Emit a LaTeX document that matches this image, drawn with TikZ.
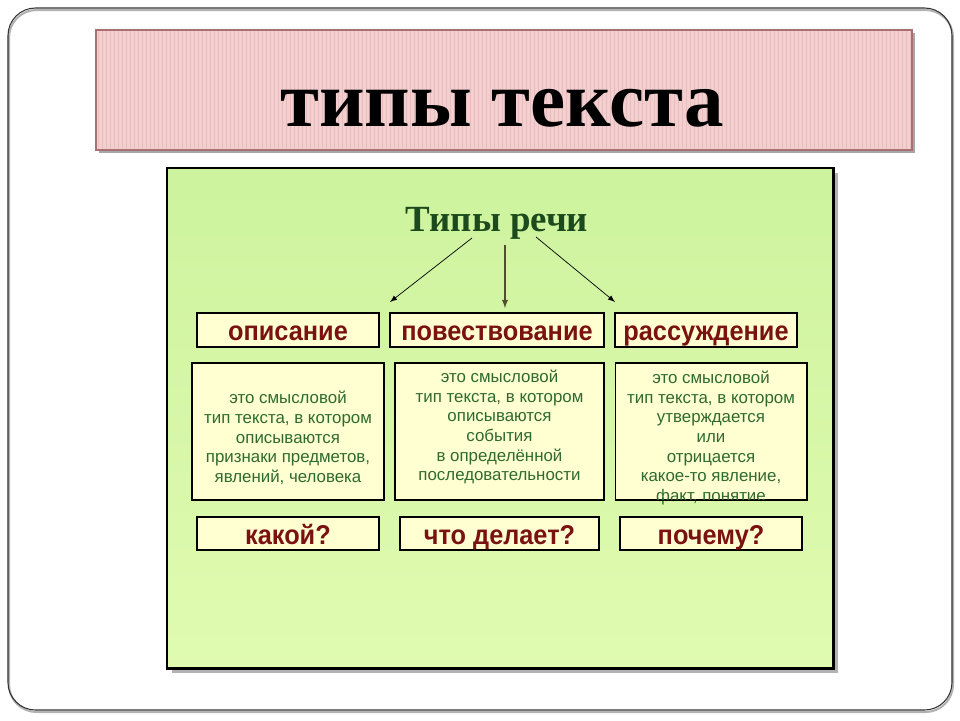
\documentclass[tikz,border=0pt]{standalone}
\usepackage{fontspec}
\setmainfont{Liberation Serif}
\setsansfont{Liberation Sans}
\newfontfamily\vidfont[FakeStretch=0.93]{Liberation Sans}

\definecolor{pinkfill}{HTML}{F4CFCF}
\definecolor{pinkline}{HTML}{E9BDBD}
\definecolor{pinkedge}{HTML}{A87070}
\definecolor{lime1}{HTML}{CDF39E}
\definecolor{lime2}{HTML}{E0FBB0}
\definecolor{cream}{HTML}{FFFFD2}
\definecolor{darkred}{HTML}{7A1212}
\definecolor{darkgreen}{HTML}{1C4A1C}
\definecolor{txtgreen}{HTML}{2F6A2F}

\begin{document}
\begin{tikzpicture}[x=0.02cm, y=-0.02cm,
    vid/.style={draw=black, fill=cream, line width=0.6pt, inner sep=0pt,
        minimum height=0.68cm, text height=14pt, text depth=2pt,
        font=\vidfont\bfseries\fontsize{15.5}{18}\selectfont, text=darkred},
    opis/.style={draw=black, fill=cream, line width=0.6pt, inner sep=0pt,
        minimum height=2.74cm},
    txt/.style={align=center, text=txtgreen, inner sep=0pt,
        font=\sffamily\fontsize{9.6}{11.2}\selectfont}]
    \useasboundingbox (0,0) rectangle (960,720);
    % frame of the slide
    \draw [gray!60, line width=1.2pt, rounded corners=0.55cm] (9,10) rectangle (953,712);
    \draw [black!80, line width=0.6pt, rounded corners=0.55cm] (8,8) rectangle (952,710);
    % title
    \fill [gray!70] (99,33) rectangle (915,153);
    \fill [pinkfill] (96,30) rectangle (912,150);
    \foreach \x in {98,102,...,910}
        \draw [pinkline, line width=0.5pt] (\x,31) -- (\x,149);
    \draw [pinkedge, line width=0.8pt] (96,30) rectangle (912,150);
    \node [anchor=base, inner sep=0pt] (title) at (502,126)
        {\fontsize{45}{48}\selectfont\bfseries типы текста};
    % green panel
    \fill [gray!60] (172,173) rectangle (838,673);
    \shade [top color=lime1, bottom color=lime2] (167,168) rectangle (833,668);
    \draw [black, line width=1.7pt] (167,168) rectangle (833,668);
    \node [anchor=base, inner sep=0pt, text=darkgreen] (rech) at (497,231)
        {\fontsize{21}{24}\selectfont\bfseries Типы речи};
    % three types
    \node [vid, minimum width=3.64cm] (op) at (288,330) {описание};
    \node [vid, minimum width=4.28cm] (pov) at (497,330) {повествование};
    \node [vid, minimum width=3.64cm] (ras) at (706,330) {рассуждение};
    \coordinate (a1) at (472,238);
    \coordinate (a2) at (505,245);
    \coordinate (a3) at (536,237);
    \coordinate (t1) at (390,302);
    \coordinate (t2) at (505,308);
    \coordinate (t3) at (615,302);
    \draw [black, line width=0.4pt, -latex] (a1) -- (t1);
    \draw [black!55!olive, line width=0.6pt, -latex] (a2) -- (t2);
    \draw [black, line width=0.4pt, -latex] (a3) -- (t3);
    % definitions
    \node [opis, minimum width=3.84cm] (d1) at (288,431.5) {};
    \node [opis, minimum width=4.18cm] (d2) at (499.5,431.5) {};
    \node [opis, minimum width=3.84cm] (d3) at (711,431.5) {};
    \node [txt] (t1a) at (288,438) {это смысловой\\тип текста, в котором\\описываются\\признаки предметов,\\явлений, человека};
    \node [txt] (t2a) at (499.5,427) {это смысловой\\тип текста, в котором\\описываются\\события\\в определённой\\последовательности};
    \node [txt] (t3a) at (711,438) {это смысловой\\тип текста, в котором\\утверждается\\или\\отрицается\\какое-то явление,\\факт, понятие};
    \draw [black, line width=0.6pt] (d3.south west) -- (d3.south east);
    % questions
    \node [vid, minimum width=3.64cm, minimum height=0.66cm] (q1) at (288,533.5) {какой?};
    \node [vid, minimum width=3.98cm, minimum height=0.66cm] (q2) at (499.5,533.5) {что делает?};
    \node [vid, minimum width=3.64cm, minimum height=0.66cm] (q3) at (711,533.5) {почему?};
\end{tikzpicture}
\end{document}
